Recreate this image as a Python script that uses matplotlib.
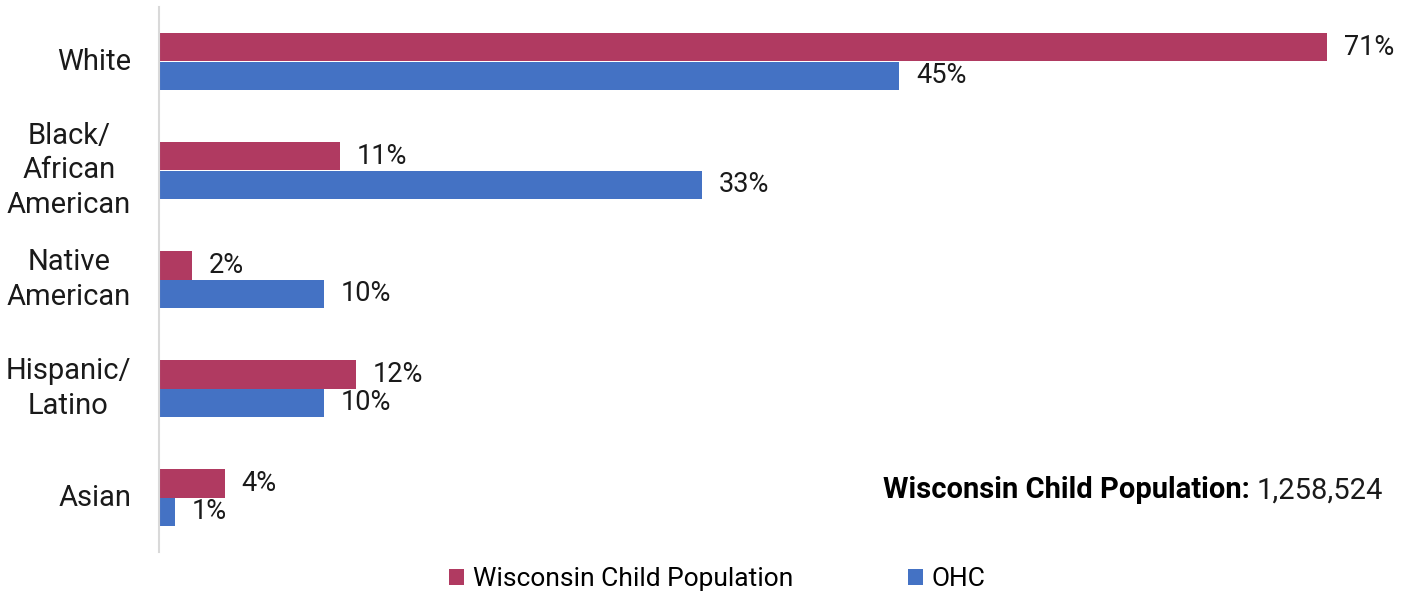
import matplotlib.pyplot as plt
import numpy as np

plt.rcParams['font.family'] = ['Roboto', 'DejaVu Sans']

# data
groups = ['White', 'Black/\nAfrican\nAmerican', 'Native\nAmerican', 'Hispanic/\nLatino', 'Asian']
wi_pop = [71, 11, 2, 12, 4]
ohc = [45, 33, 10, 10, 1]
series_names = ['Wisconsin Child Population', 'OHC']
total_label = 'Wisconsin Child Population:'
total_value = '1,258,524'

red = '#B03A61'
blue = '#4472C4'
txt = '#1a1a1a'

fig = plt.figure(figsize=(14.08, 5.95), dpi=100)
ax = fig.add_axes([159 / 1408, 43 / 595, (1393 - 159) / 1408, 545 / 595])

y = np.arange(len(groups))
h = 0.257
b1 = ax.barh(y - h / 2, wi_pop, height=h, color=red, label=series_names[0])
b2 = ax.barh(y + h / 2, ohc, height=h, color=blue, label=series_names[1])

ax.bar_label(b1, labels=[f'{v}%' for v in wi_pop], padding=12, fontsize=19.5, color=txt)
ax.bar_label(b2, labels=[f'{v}%' for v in ohc], padding=12, fontsize=19.5, color=txt)

ax.set_xlim(0, 75)
ax.set_ylim(len(groups) - 0.5, -0.5)
ax.set_yticks(y)
ax.set_yticklabels(groups, fontsize=21, multialignment='center', color=txt,
                   linespacing=1.28, va='center')
ax.tick_params(axis='y', length=0, pad=20)
ax.set_xticks([])

for s in ['top', 'right', 'bottom']:
    ax.spines[s].set_visible(False)
ax.spines['left'].set_color('#D9D9D9')
ax.spines['left'].set_linewidth(1.5)

# population note, bold label then plain number
num = ax.text(74.4, 3.935, total_value, ha='right', va='center', fontsize=21, color=txt)
ax.annotate(total_label + ' ', xy=(0, 0.5), xycoords=num, ha='right', va='center',
            fontsize=21, fontweight='bold', color='black')

fig.legend(loc='center', bbox_to_anchor=(0.5096, 1 - 579 / 595), ncol=2, frameon=False,
           fontsize=19, handlelength=0.55, handleheight=0.55, handletextpad=0.35,
           columnspacing=4.35)

fig.savefig('out.png', dpi=100)
